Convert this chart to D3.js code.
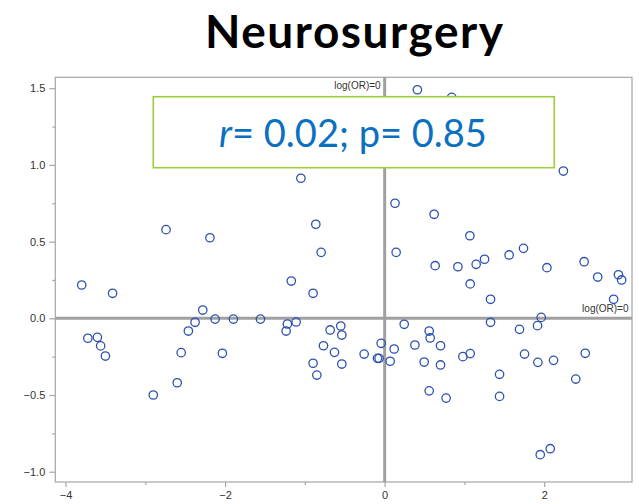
<!DOCTYPE html>
<html>
<head>
<meta charset="utf-8">
<script src="https://cdn.jsdelivr.net/npm/d3@7"></script>
<style>
  html, body { margin: 0; padding: 0; background: #fff; }
  svg { display: block; }
</style>
</head>
<body>
<script>
// log(OR) pairs for each study, x vs y
const xValues = [0.41, 0.84, 2.24, -1.05, 0.13, -0.863, -2.19, -0.796, 0.144, -1.17,
  -0.897, -2.28, -2.125, -1.896, -1.557, -1.219, -1.11, -1.235, 0.245, -0.683,
  -0.55, -0.537, -0.044, 0.379, 0.119, -2.034, -0.767, -0.629, -0.257, -0.09,
  -0.07, 0.069, -0.897, -0.537, 0.62, 1.068, 1.74, 1.56, 0.633, 0.918,
  1.147, 1.252, 2.034, 2.5, 2.67, 2.93, 2.97, 1.072, 1.327, 2.87,
  1.962, 1.327, 1.916, 1.69, 0.558, 0.57, 0.70, 1.072, 0.98, 1.753,
  2.514, 1.92, 2.117, 0.495, 0.70, 1.44, 0.558, 0.77, 1.44, 2.395,
  2.075, 1.95, -0.85, -2.9, -2.6, -3.797, -3.41, -2.74, -3.72, -3.6,
  -3.56, -3.5, -2.55, -2.46, -2.376];
const yValues = [1.49, 1.44, 0.96, 0.913, 0.75, 0.613, 0.525, 0.43, 0.43, 0.243,
  0.163, 0.054, -0.005, -0.005, -0.005, -0.037, -0.024, -0.083, -0.039, -0.076,
  -0.05, -0.109, -0.163, -0.174, -0.2, -0.228, -0.179, -0.222, -0.233, -0.261,
  -0.261, -0.28, -0.293, -0.298, 0.678, 0.538, 0.456, 0.413, 0.343, 0.336,
  0.352, 0.385, 0.33, 0.369, 0.269, 0.284, 0.25, 0.224, 0.124, 0.124,
  0.006, -0.026, -0.048, -0.072, -0.083, -0.128, -0.179, -0.23, -0.25, -0.233,
  -0.228, -0.287, -0.274, -0.285, -0.304, -0.365, -0.473, -0.52, -0.509, -0.396,
  -0.85, -0.889, -0.37, -0.5, -0.42, 0.217, 0.163, 0.578, -0.13, -0.124,
  -0.18, -0.246, -0.224, -0.083, -0.026];

const xMajorTicks = [-4, -2, 0, 2];
const xMinorTicks = [-3, -1, 1];
const yMajorTicks = [-1.0, -0.5, 0.0, 0.5, 1.0, 1.5];
const yMinorTicks = [-0.75, -0.25, 0.25, 0.75, 1.25];
const xDomain = [-4.128, 3.10];
const yDomain = [-1.067, 1.571];

const titleText = "Neurosurgery";
const refLabel = "log(OR)=0";
const statR = "r";
const statRest = "= 0.02; p= 0.85";

const W = 639, H = 504;
const plot = { left: 55.3, right: 632, top: 77.3, bottom: 482 };

const svg = d3.select("body").append("svg")
  .attr("width", W).attr("height", H);

const x = d3.scaleLinear().domain(xDomain).range([plot.left, plot.right]);
const y = d3.scaleLinear().domain(yDomain).range([plot.bottom, plot.top]);

// title: fixed size, spaced out to span its width
const title = svg.append("text")
  .attr("x", 354).attr("y", 47.5)
  .attr("text-anchor", "middle")
  .style("font-family", "Lato, 'Open Sans', sans-serif")
  .style("font-weight", 700)
  .style("font-size", "46px")
  .attr("fill", "#000")
  .text(titleText);
{
  const w = title.node().getComputedTextLength();
  const gap = Math.max(0, (298 - w) / (titleText.length - 1));
  title.style("letter-spacing", gap + "px")
    .attr("x", 354 + gap / 2);
}

const axisColor = "#a6a6a6";
const tickFont = "Arial, 'Liberation Sans', sans-serif";

// frame
svg.append("rect")
  .attr("x", plot.left).attr("y", plot.top)
  .attr("width", plot.right - plot.left).attr("height", plot.bottom - plot.top)
  .attr("fill", "none").attr("stroke", axisColor).attr("stroke-width", 1.2);

function styleAxis(g) {
  g.select(".domain").remove();
  g.selectAll(".tick line").attr("stroke", axisColor).attr("stroke-width", 1.2);
  g.selectAll(".tick text")
    .attr("fill", "#333")
    .style("font-family", tickFont)
    .style("font-size", "11px");
}

// x axis
svg.append("g").attr("transform", `translate(0,${plot.bottom})`)
  .call(d3.axisBottom(x).tickValues(xMajorTicks).tickSize(5).tickPadding(4)
    .tickFormat(d3.format("d")))
  .call(styleAxis);
svg.append("g").attr("transform", `translate(0,${plot.bottom})`)
  .call(d3.axisBottom(x).tickValues(xMinorTicks).tickSize(3).tickFormat(""))
  .call(styleAxis);

// y axis
svg.append("g").attr("transform", `translate(${plot.left},0)`)
  .call(d3.axisLeft(y).tickValues(yMajorTicks).tickSize(6).tickPadding(4)
    .tickFormat(d3.format(".1f")))
  .call(styleAxis);
svg.append("g").attr("transform", `translate(${plot.left},0)`)
  .call(d3.axisLeft(y).tickValues(yMinorTicks).tickSize(3).tickFormat(""))
  .call(styleAxis);

// reference lines at log(OR)=0
const refColor = "#a0a0a0";
svg.append("line")
  .attr("x1", x(0)).attr("x2", x(0))
  .attr("y1", plot.top).attr("y2", plot.bottom)
  .attr("stroke", refColor).attr("stroke-width", 3);
svg.append("line")
  .attr("x1", plot.left).attr("x2", plot.right)
  .attr("y1", y(0)).attr("y2", y(0))
  .attr("stroke", refColor).attr("stroke-width", 3);

svg.append("text")
  .attr("x", x(0) - 4).attr("y", plot.top + 12)
  .attr("text-anchor", "end")
  .style("font-family", tickFont).style("font-size", "10px")
  .attr("fill", "#333").text(refLabel);
svg.append("text")
  .attr("x", plot.right - 3.5).attr("y", y(0) - 6)
  .attr("text-anchor", "end")
  .style("font-family", tickFont).style("font-size", "10px")
  .attr("fill", "#333").text(refLabel);

// points
const points = xValues.map((v, i) => ({ x: v, y: yValues[i] }));
svg.append("g").selectAll("circle")
  .data(points).join("circle")
  .attr("cx", d => x(d.x)).attr("cy", d => y(d.y))
  .attr("r", 4.2)
  .attr("fill", "none")
  .attr("stroke", "#2d52ae")
  .attr("stroke-width", 1.3);

// correlation annotation box (opaque, sits over the points)
const box = { x: 153.3, y: 96.7, w: 401, h: 71 };
svg.append("rect")
  .attr("x", box.x).attr("y", box.y).attr("width", box.w).attr("height", box.h)
  .attr("fill", "#fff").attr("stroke", "#9dcb3a").attr("stroke-width", 1.6);

const stat = svg.append("text")
  .attr("x", 219).attr("y", 146.5)
  .style("font-family", "Lato, 'Open Sans', sans-serif")
  .style("font-size", "100px")
  .attr("fill", "#0a70c0");
stat.append("tspan").style("font-style", "italic").text(statR);
stat.append("tspan").text(statRest);
{
  const w = stat.node().getComputedTextLength();
  stat.style("font-size", (100 * 268 / w) + "px");
}
</script>
</body>
</html>
